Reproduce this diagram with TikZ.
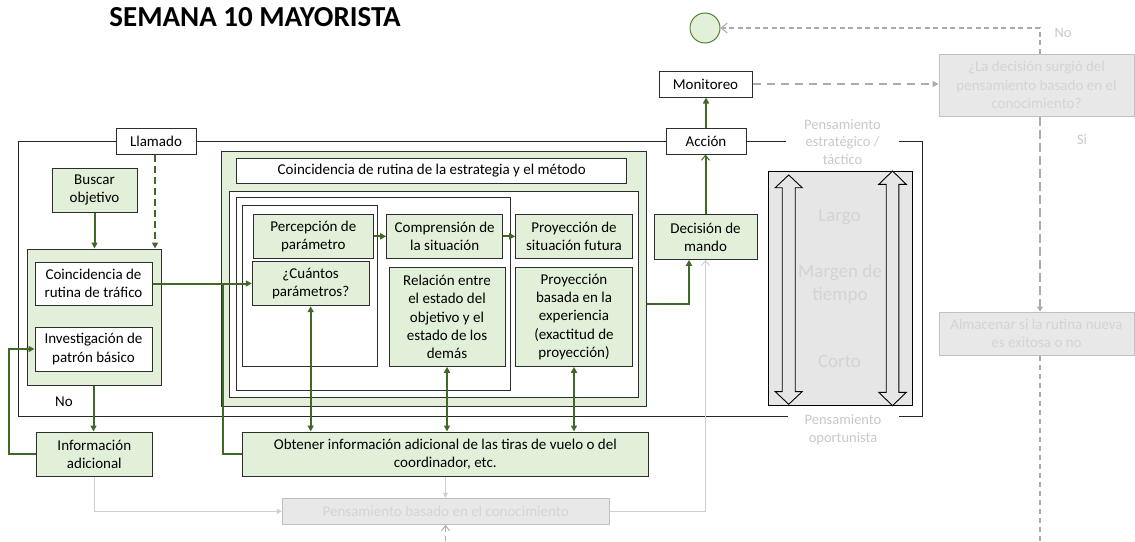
\documentclass[tikz,border=0pt]{standalone}
\usepackage{fontspec}
\setmainfont{Carlito}
\usetikzlibrary{arrows.meta}

\definecolor{leaf}{RGB}{226,239,217}
\definecolor{moss}{RGB}{66,104,40}
\definecolor{ringedge}{RGB}{84,130,53}
\definecolor{edge}{RGB}{45,45,45}
\definecolor{ghostfill}{RGB}{232,232,232}
\definecolor{ghostedge}{RGB}{192,192,192}
\definecolor{ghosttext}{RGB}{212,212,212}
\definecolor{dashgray}{RGB}{172,170,172}
\definecolor{faintline}{RGB}{208,208,208}
\definecolor{boxgray}{RGB}{230,230,230}
\definecolor{labelgray}{RGB}{200,200,200}

\tikzset{
  body/.style={font=\fontsize{15}{18.2}\selectfont},
  wh/.style 2 args={minimum width=#1pt, minimum height=#2pt},
  box/.style={body, draw=edge, line width=1pt, inner sep=0pt, align=center},
  gbox/.style={box, fill=leaf},
  wbox/.style={box, fill=white},
  ghost/.style={body, draw=ghostedge, fill=ghostfill, text=ghosttext, line width=1pt, inner sep=0pt, align=center},
  tag/.style={font=\fontsize{14.5}{17.6}\selectfont, text=labelgray, align=center, inner sep=0pt},
  span/.style={font=\fontsize{19}{23}\selectfont, text=ghosttext, align=center, inner sep=0pt},
  tri/.tip={Triangle[length=6pt,width=6pt]},
  barb/.tip={Straight Barb[length=5pt,width=8pt,line width=1pt]},
  flow/.style={draw=moss, line width=2pt, -tri},
  twoway/.style={draw=moss, line width=2pt, tri-tri},
  upflow/.style={draw=moss, line width=2pt, -barb},
  faint/.style={draw=faintline, line width=1.3pt},
}

\begin{document}
\begin{tikzpicture}[x=1pt,y=-1pt]
\useasboundingbox (0,0) rectangle (1135,541);

% title
\node[font=\fontsize{29}{32}\selectfont\bfseries, inner sep=0pt] (title) at (255,17.5) {SEMANA 10 MAYORISTA};

% outer frame of the work area
\draw[line width=1pt, draw=black!85]
  (786,141) -- (18,141) -- (18,416) -- (787.7,416)
  (899.3,416) -- (922.7,416) -- (922.7,141) -- (899,141);

% frame labels
\node[wbox, wh={80}{26}] (llam) at (156,141) {Llamado};
\node[wbox, wh={80}{26}] (acc) at (706,141) {Acción};
\node[wbox, wh={93}{26}] (mon) at (705.5,84) {Monitoreo};
\node[draw=ringedge, fill=leaf, line width=1pt, circle, minimum size=30pt, inner sep=0pt] (circ) at (705,28) {};

% left column
\node[gbox, wh={85}{44}] (busc) at (94.5,190) {Buscar\\objetivo};
\node[gbox, wh={134}{136}] (lc) at (94,317) {};
\node[wbox, wh={117}{43}] (coinc) at (93.5,283.5) {Coincidencia de\\rutina de tráfico};
\node[wbox, wh={117}{44}] (inv) at (93.5,349) {Investigación de\\patrón básico};
\node[body, inner sep=0pt] (no) at (64,401.7) {No};
\node[gbox, wh={116.7}{44}] (info) at (94.35,454) {Información\\adicional};

% strategy and method block
\node[gbox, wh={425}{254.3}] (big) at (434.2,278.85) {};
\node[wbox, wh={390}{25}] (head) at (431.7,170.8) {Coincidencia de rutina de la estrategia y el método};
\node[wbox, wh={409.4}{206.3}] (inner1) at (434,294.15) {};
\node[wbox, wh={274.7}{193.4}] (inner2) at (373.35,294) {};
\node[wbox, wh={134.6}{161}] (inner3) at (310,285.5) {};
\node[gbox, wh={120}{44}] (perc) at (313.3,236.3) {Percepción de\\parámetro};
\node[gbox, wh={116.7}{44.4}] (cuant) at (310.65,283.5) {¿Cuántos\\parámetros?};
\node[gbox, wh={116}{44}] (compr) at (444.7,236.3) {Comprensión de\\la situación};
\node[gbox, wh={116}{98.6}] (rel) at (447,317) {Relación entre\\el estado del\\objetivo y el\\estado de los\\demás};
\node[gbox, wh={116.6}{44}] (proyf) at (574,236.3) {Proyección de\\situación futura};
\node[gbox, wh={116.6}{98.6}] (proyb) at (574,317) {Proyección\\basada en la\\experiencia\\(exactitud de\\proyección)};
\node[gbox, wh={103}{44.6}] (dec) at (705.5,237) {Decisión de\\mando};
\node[gbox, wh={406}{44}] (obt) at (445.3,454) {Obtener información adicional de las tiras de vuelo o del\\coordinador, etc.};

% time margin panel
\node[draw=black, fill=boxgray, line width=1pt, inner sep=0pt, wh={144}{234}] (panel) at (840,288) {};
\begin{scope}[draw=black, fill=boxgray, line width=0.9pt]
  \filldraw (788.7,175) -- (802.2,187.7) -- (795.2,187.7) -- (795.2,391.6) -- (802.2,391.6)
    -- (788.7,404.3) -- (775.2,391.6) -- (782.2,391.6) -- (782.2,187.7) -- (775.2,187.7) -- cycle;
  \filldraw (892.5,171) -- (906.2,184.3) -- (898.8,184.3) -- (898.8,392.4) -- (906.2,392.4)
    -- (892.5,405.7) -- (878.8,392.4) -- (886.2,392.4) -- (886.2,184.3) -- (878.8,184.3) -- cycle;
\end{scope}
\node[span] (largo) at (839.5,217) {Largo};
\node[span] (margen) at (840,283.5) {Margen de\\tiempo};
\node[span] (corto) at (839.5,361) {Corto};
\node[tag] (strat) at (842.5,141.7) {Pensamiento\\estratégico /\\táctico};
\node[tag] (opor) at (843,429.5) {Pensamiento\\oportunista};

% knowledge based path
\node[ghost, wh={326.7}{26}] (know) at (445.65,511.3) {Pensamiento basado en el conocimiento};
\node[ghost, wh={195}{62}] (q) at (1036.5,85) {¿La decisión surgió del\\pensamiento basado en el\\conocimiento?};
\node[ghost, wh={195}{43}] (alm) at (1036.5,333.5) {Almacenar si la rutina nueva\\es exitosa o no};
\node[tag] (qno) at (1063,33) {No};
\node[tag] (qsi) at (1082,140) {Si};
\coordinate (kbase) at (445.5,541);
\coordinate (abase) at (1040,541);
\coordinate (join) at (222.7,283.5);

% green connectors
\draw[flow] (busc.south) -- (busc.south |- lc.north);
\draw[flow, dash pattern=on 7pt off 4pt] (llam.south -| 155,0) -- (lc.north -| 155,0);
\draw[flow] (lc.south -| 93.5,0) -- (info.north -| 93.5,0);
\draw[flow] (info.west) -- ++(-27,0) |- (inv.west);
\draw[flow] (coinc.east) -- (coinc.east -| cuant.west);
\draw[draw=moss, line width=2pt] (obt.west) -| (join);
\draw[flow] (perc.east) -- (compr.west);
\draw[flow] (compr.east) -- (proyf.west);
\draw[twoway] (cuant.south) -- (cuant.south |- obt.north);
\draw[twoway] (rel.south) -- (rel.south |- obt.north);
\draw[twoway] (proyb.south) -- (proyb.south |- obt.north);
\draw[flow] (big.east |- 0,304) -| ([xshift=-16.5pt]dec.south);
\draw[upflow] (dec.north) -- (dec.north |- acc.south);
\draw[flow] (acc.north) -- (acc.north |- mon.south);

% grey connectors
\draw[faint, -{Triangle[length=5pt,width=5pt]}] (info.south) |- (know.west);
\draw[faint, -{Triangle[length=5pt,width=5pt]}] (obt.south) -- (obt.south |- know.north);
\draw[faint, -{Straight Barb[length=5pt,width=8pt,line width=1pt]}] (know.east) -| (dec.south);
\draw[draw=dashgray, line width=1.3pt, dash pattern=on 5pt off 4pt, -{Straight Barb[length=5pt,width=8pt,line width=1pt]}] (kbase) -- (know.south -| kbase);
\draw[draw=dashgray, line width=2pt, dash pattern=on 8pt off 6pt, -{Triangle[length=6pt,width=6pt]}] (mon.east) -- (mon.east -| q.west);
\draw[draw=dashgray, line width=1.3pt, dash pattern=on 5pt off 3.5pt, -{Straight Barb[length=6pt,width=10pt,line width=1pt]}] (q.north -| abase) |- (circ);
\draw[draw=dashgray, line width=1.8pt, dash pattern=on 9pt off 4pt, -{Triangle[length=5pt,width=6pt]}] (q.south -| abase) -- (alm.north -| abase);
\draw[draw=dashgray, line width=1.3pt, dash pattern=on 5pt off 4pt] (alm.south -| abase) -- (abase);
\end{tikzpicture}
\end{document}
